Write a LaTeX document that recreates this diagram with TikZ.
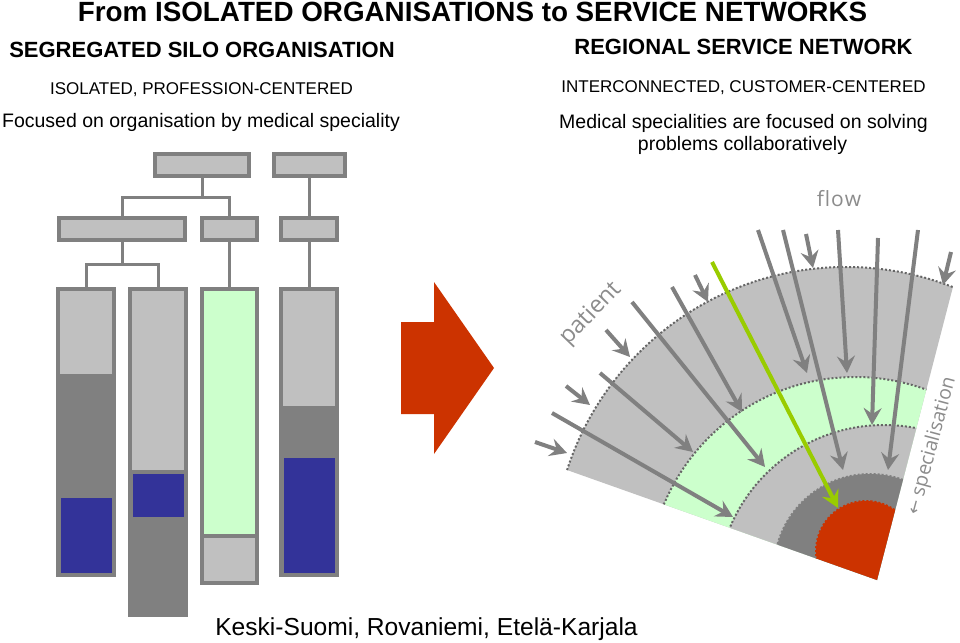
\documentclass[tikz,border=0pt]{standalone}
\usepackage{fontspec}
\setmainfont{Liberation Sans}
\newfontfamily\labfont{Open Sans}
\newfontfamily\arrfont{DejaVu Sans}
\usetikzlibrary{arrows.meta}
\definecolor{lgray}{HTML}{C0C0C0}
\definecolor{dgray}{HTML}{808080}
\definecolor{navy}{HTML}{333399}
\definecolor{mint}{HTML}{CCFFCC}
\definecolor{brick}{HTML}{CC3300}
\definecolor{lime}{HTML}{99CC00}
\definecolor{labgray}{HTML}{8C8C8C}
\definecolor{dotgray}{HTML}{666666}
\begin{document}
\begin{tikzpicture}[x=1pt,y=-1pt,
  tbox/.style={draw=dgray, line width=4pt, fill=lgray, inner sep=0pt, outer sep=0pt},
  conn/.style={draw=dgray, line width=3pt},
  flowarrow/.style={draw=dgray, line width=4pt, -{Stealth[length=17pt,width=18pt,inset=6pt]}},
  greenarrow/.style={draw=lime, line width=4pt, -{Stealth[length=17pt,width=18pt,inset=6pt]}},
  ring/.style={line width=2pt, dash pattern=on 2pt off 2pt},
  ttl/.style={anchor=base, inner sep=0pt, font=\bfseries\fontsize{27.8}{30}\selectfont},
  head/.style={anchor=base, inner sep=0pt, font=\bfseries\fontsize{22}{24}\selectfont},
  sub/.style={anchor=base, inner sep=0pt, font=\fontsize{17}{19}\selectfont},
  desc/.style={anchor=base, inner sep=0pt, font=\fontsize{19.5}{22}\selectfont},
  lab/.style={inner sep=0pt, text=labgray, font=\labfont\fontsize{21}{24}\selectfont}
]
\fill[white] (0,0) rectangle (960,642);
\useasboundingbox (0,0) rectangle (960,642);

% titles
\node[ttl] (title) at (472.5,22) {From ISOLATED ORGANISATIONS to SERVICE NETWORKS};
\node[head] (lhead) at (202,57.5) {SEGREGATED SILO ORGANISATION};
\node[sub] (lsub) at (201.5,94.5) {ISOLATED, PROFESSION-CENTERED};
\node[desc] (ldesc) at (201,127) {Focused on organisation by medical speciality};
\node[head] (rhead) at (743.5,54.3) {REGIONAL SERVICE NETWORK};
\node[sub] (rsub) at (743.5,92.7) {INTERCONNECTED, CUSTOMER-CENTERED};
\node[desc] (rdesc1) at (743.5,128.3) {Medical specialities are focused on solving};
\node[desc] (rdesc2) at (742.5,150.7) {problems collaboratively};
\node[anchor=base, inner sep=0pt, font=\fontsize{24.6}{27}\selectfont] (place) at (426.5,635) {Keski-Suomi, Rovaniemi, Etelä-Karjala};

% tree boxes
\node[tbox, minimum width=94pt, minimum height=22pt] (t1) at (202,165) {};
\node[tbox, minimum width=71pt, minimum height=22pt] (t2) at (309,165) {};
\node[tbox, minimum width=126pt, minimum height=22pt] (b1) at (122,229) {};
\node[tbox, minimum width=55pt, minimum height=22pt] (b2) at (229.5,229) {};
\node[tbox, minimum width=56pt, minimum height=22pt] (b3) at (309,229) {};
\node[tbox, minimum width=56pt, minimum height=286pt] (c1) at (86,432) {};
\node[tbox, minimum width=56pt, minimum height=326pt] (c2) at (158,452) {};
\node[tbox, minimum width=55pt, minimum height=294pt] (c3) at (229.5,436) {};
\node[tbox, minimum width=56pt, minimum height=286pt] (c4) at (309,432) {};

% column contents
\fill[dgray] (60,374) rectangle (112,573);
\fill[navy] (60.5,498) rectangle (111.5,573);
\fill[dgray] (132,470) rectangle (184,613);
\fill[navy] (132.5,474) rectangle (183.5,517);
\fill[mint] (204,291) rectangle (255,534);
\draw[dgray, line width=4pt] (202,536) -- (257,536);
\fill[dgray] (283,406) rectangle (335,573);
\fill[navy] (283.5,458) rectangle (334.5,573);

% connectors
\coordinate (j1) at (202,197);
\coordinate (j2) at (122,264);
\draw[conn] (t1.south) -- (j1);
\draw[conn] (b1.north) |- (j1) -| (b2.north);
\draw[conn] (t2.south) -- (b3.north);
\draw[conn] (b1.south) -- (j2);
\draw[conn] (c1.north) |- (j2) -| (c2.north);
\draw[conn] (b2.south) -- (c3.north);
\draw[conn] (b3.south) -- (c4.north);

% big arrow
\fill[brick] (401,322) -- (434,322) -- (434,282) -- (494,368) -- (434,454) -- (434,414) -- (401,414) -- cycle;

% fan
\begin{scope}
\clip (877,580) -- (412,415) -- (412,140) -- (991,140) -- cycle;
\fill[lgray] (846,560) circle[radius=293];
\fill[mint] (855,584) circle[radius=207];
\fill[lgray] (884,592) circle[radius=167];
\fill[dgray] (870,570) circle[radius=96];
\fill[brick] (866,551) circle[radius=50];
\draw[ring, dotgray] (846,560) circle[radius=293];
\draw[ring, dotgray] (855,584) circle[radius=207];
\draw[ring, dotgray] (884,592) circle[radius=167];
\draw[ring, dgray] (870,570) circle[radius=96];
\draw[ring, brick] (866,551) circle[radius=50];
\end{scope}

% flow arrows
\foreach \sx/\sy/\ex/\ey in {535/442/567/453, 566/386/590/405, 606/330/630/357, 695/275/708/302,
  806/234/813/268, 951/252/943/285,
  552/413/733/517, 600/373/693/452, 632/302/765/467, 672/287/742/412,
  758/230/807/373, 783/230/843/470, 838/230/847/373, 878/238/872/425, 918/230/888/470}
  \draw[flowarrow] (\sx,\sy) -- (\ex,\ey);
\draw[greenarrow] (712,262) -- (838,508);

% labels
\node[lab, anchor=base] (flow) at (839,206) {f\kern1pt l\kern1pt o\kern1pt w};
\node[lab, rotate=46, font=\labfont\fontsize{23.5}{26}\selectfont] (patient) at (591,314) {patient};
\node[lab, rotate=75, font=\labfont\fontsize{19.5}{22}\selectfont] (spec) at (932,446) {{\arrfont\fontsize{17}{20}\selectfont ←} specialisation};
\end{tikzpicture}
\end{document}
